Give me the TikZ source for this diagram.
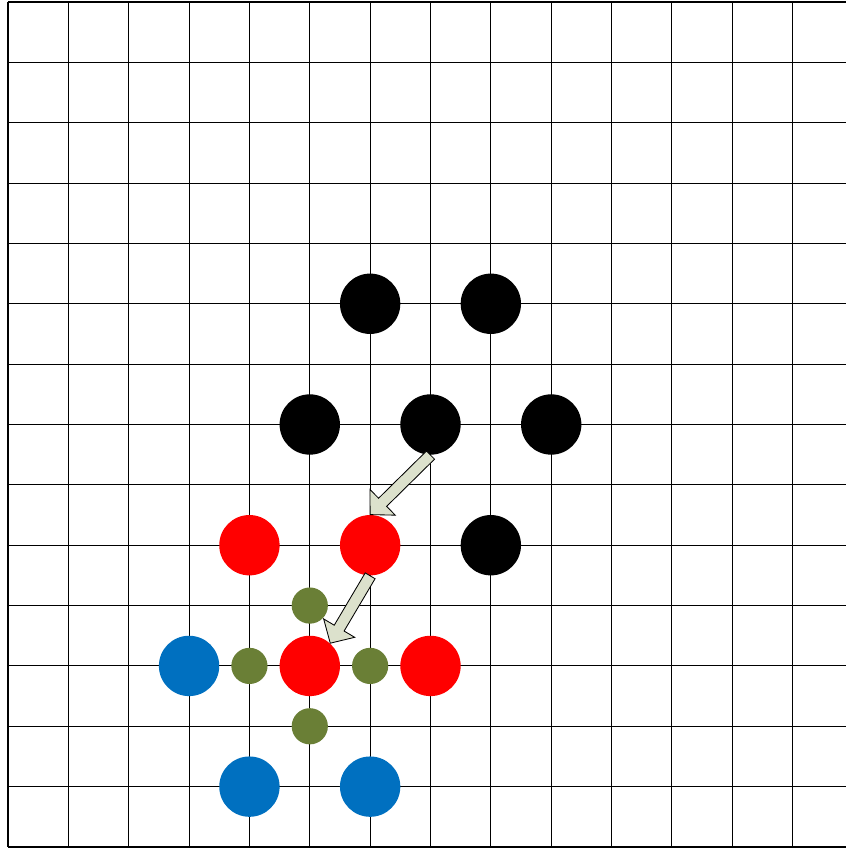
\documentclass[tikz,border=0pt]{standalone}
\usepackage{tikz}
\usetikzlibrary{calc}
\definecolor{stonered}{HTML}{FF0000}
\definecolor{stoneblue}{HTML}{0070C0}
\definecolor{stoneolive}{HTML}{6A7F36}
\definecolor{arrowsage}{HTML}{DCE1CC}

% block arrow from #1 to #2
\newcommand\blockarrow[2]{%
  \coordinate (ba-neck) at ($(#2)!8.25pt!(#1)$);
  \draw[movearrow]
    ($(#1)!2.7pt!90:(#2)$) -- ($(ba-neck)!2.7pt!-90:(#1)$)
    -- ($(ba-neck)!8.5pt!-90:(#1)$) -- (#2)
    -- ($(ba-neck)!8.5pt!90:(#1)$) -- ($(ba-neck)!2.7pt!90:(#1)$)
    -- ($(#1)!2.7pt!-90:(#2)$) -- cycle;}

\begin{document}
\begin{tikzpicture}[x=1cm,y=1cm,
    stone/.style={circle,inner sep=0pt,minimum size=1cm,fill=#1},
    liberty/.style={circle,inner sep=0pt,minimum size=0.6cm,fill=stoneolive},
    movearrow/.style={draw=black,line width=0.4pt,fill=arrowsage,line join=miter}]
    \useasboundingbox (-0.1325,-0.0166) rectangle (13.883,14.033);
    \draw[black,line width=0.5pt] (0,0) grid (13.883,14);
    % black stones
    \foreach \x/\y in {6/9,8/9,5/7,7/7,9/7,8/5}
      \node[stone=black] (b\x\y) at (\x,\y) {};
    % red stones
    \foreach \x/\y in {4/5,6/5,5/3,7/3}
      \node[stone=stonered] (r\x\y) at (\x,\y) {};
    % blue stones
    \foreach \x/\y in {3/3,4/1,6/1}
      \node[stone=stoneblue] (u\x\y) at (\x,\y) {};
    % liberties
    \foreach \x/\y in {5/4,4/3,6/3,5/2}
      \node[liberty] (g\x\y) at (\x,\y) {};
    \blockarrow{b77.south}{r65.north}
    \blockarrow{r65.south}{r53.48}
  \end{tikzpicture}
\end{document}
